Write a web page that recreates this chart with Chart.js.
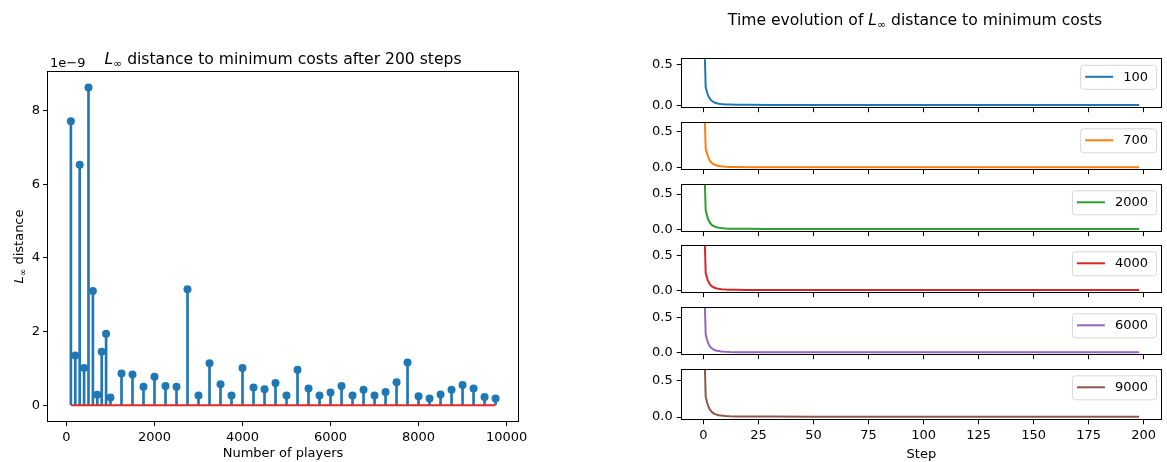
<!DOCTYPE html>
<html>
<head>
<meta charset="utf-8">
<script src="https://cdn.jsdelivr.net/npm/chart.js@4.4.1/dist/chart.umd.min.js"></script>
<style>
  body { margin: 0; background: #fff; width: 1167px; height: 462px; overflow: hidden; }
  canvas { position: absolute; }
</style>
</head>
<body>
<canvas id="stem-chart" width="560" height="462" style="left:0;top:0"></canvas>
<script>
// number of players per run and the L-inf distance reached after 200 steps
const players = [100, 200, 300, 400, 500, 600, 700, 800, 900, 1000,
    1250, 1500, 1750, 2000, 2250, 2500, 2750, 3000, 3250, 3500, 3750, 4000,
    4250, 4500, 4750, 5000, 5250, 5500, 5750, 6000, 6250, 6500, 6750, 7000,
    7250, 7500, 7750, 8000, 8250, 8500, 8750, 9000, 9250, 9500, 9750];
const distances = [7.71e-9, 1.35e-9, 6.53e-9, 1.01e-9, 8.63e-9, 3.10e-9, 0.28e-9, 1.45e-9, 1.94e-9, 0.21e-9,
    0.86e-9, 0.83e-9, 0.50e-9, 0.77e-9, 0.52e-9, 0.50e-9, 3.15e-9, 0.26e-9, 1.14e-9, 0.57e-9, 0.26e-9, 1.01e-9,
    0.48e-9, 0.43e-9, 0.60e-9, 0.26e-9, 0.96e-9, 0.45e-9, 0.26e-9, 0.34e-9, 0.52e-9, 0.26e-9, 0.42e-9, 0.26e-9,
    0.36e-9, 0.62e-9, 1.16e-9, 0.24e-9, 0.18e-9, 0.29e-9, 0.42e-9, 0.55e-9, 0.45e-9, 0.22e-9, 0.18e-9];
const playerTicks = [0, 2000, 4000, 6000, 8000, 10000];
const distanceTicks = [0, 2e-9, 4e-9, 6e-9, 8e-9];

// time evolution of the distance for a few run sizes
const steps = [0, 1, 2, 3, 4, 5, 6, 7, 8, 10, 12, 15, 20, 30, 50, 100, 150, 198];
const run100  = [1.20, 0.22, 0.125, 0.078, 0.052, 0.037, 0.028, 0.022, 0.018, 0.014, 0.012, 0.010, 0.009, 0.008, 0.008, 0.007, 0.007, 0.007];
const run700  = [1.30, 0.26, 0.155, 0.092, 0.060, 0.043, 0.032, 0.025, 0.020, 0.015, 0.012, 0.010, 0.008, 0.007, 0.006, 0.006, 0.006, 0.006];
const run2000 = [1.30, 0.27, 0.150, 0.090, 0.058, 0.041, 0.031, 0.024, 0.019, 0.014, 0.011, 0.009, 0.008, 0.007, 0.006, 0.006, 0.006, 0.006];
const run4000 = [1.35, 0.25, 0.140, 0.085, 0.055, 0.039, 0.029, 0.023, 0.018, 0.013, 0.011, 0.009, 0.008, 0.007, 0.006, 0.006, 0.006, 0.006];
const run6000 = [1.35, 0.26, 0.145, 0.088, 0.057, 0.040, 0.030, 0.024, 0.019, 0.014, 0.011, 0.009, 0.008, 0.007, 0.006, 0.006, 0.006, 0.006];
const run9000 = [1.40, 0.28, 0.160, 0.098, 0.064, 0.045, 0.034, 0.027, 0.021, 0.015, 0.012, 0.010, 0.008, 0.007, 0.006, 0.006, 0.006, 0.006];
const runNames = ['100', '700', '2000', '4000', '6000', '9000'];
const stepTicks = [0, 25, 50, 75, 100, 125, 150, 175, 200];
const evolutionTicks = [0, 0.5];

const runs = [run100, run700, run2000, run4000, run6000, run9000];
const runColors = ['#1f77b4', '#ff7f0e', '#2ca02c', '#d62728', '#9467bd', '#8c564b'];
const runLimits = [[-0.02, 0.56], [-0.02, 0.62], [-0.025, 0.63], [-0.025, 0.64], [-0.02, 0.64], [-0.03, 0.65]];

const FONT = '"DejaVu Sans", sans-serif';
const TEXT = 13;
const TITLE = 15.6;
Chart.defaults.font.family = FONT;
Chart.defaults.font.size = TEXT;
Chart.defaults.color = '#000';

// text with an italic L and a subscript infinity
function drawMath(ctx, parts, x, y, size, align) {
    const fontOf = p => (p.italic ? 'italic ' : '') + (p.sub ? size * 0.7 : size) + 'px ' + FONT;
    let total = 0;
    const widths = parts.map(p => {
        ctx.font = fontOf(p);
        const w = ctx.measureText(p.text).width;
        total += w;
        return w;
    });
    let cx = align === 'center' ? x - total / 2 : x;
    ctx.textAlign = 'left';
    ctx.textBaseline = 'alphabetic';
    parts.forEach((p, i) => {
        ctx.font = fontOf(p);
        ctx.fillText(p.text, cx, y + (p.sub ? size * 0.2 : 0));
        cx += widths[i];
    });
}

function linf(before, rest) {
    const parts = before ? [{text: before}] : [];
    return parts.concat([{text: 'L', italic: true}, {text: '∞', sub: true}, {text: rest}]);
}

const frame = {
    id: 'frame',
    afterDatasetsDraw(chart) {
        const {ctx, chartArea: a} = chart;
        ctx.save();
        ctx.strokeStyle = '#000';
        ctx.lineWidth = 1;
        const l = Math.round(a.left) - 0.5, t = Math.round(a.top) - 0.5;
        ctx.strokeRect(l, t, Math.round(a.right) - Math.round(a.left) + 1, Math.round(a.bottom) - Math.round(a.top) + 1);
        ctx.restore();
    }
};

function tickMarks() {
    return {
        display: true,
        drawOnChartArea: false,
        drawTicks: true,
        tickLength: 5,
        color: '#000',
        lineWidth: 1,
        offset: false
    };
}

// ---- stem plot of the final distance ----
const stemDecor = {
    id: 'stemDecor',
    afterDraw(chart) {
        const {ctx, chartArea: a} = chart;
        ctx.save();
        ctx.fillStyle = '#000';
        drawMath(ctx, linf('', ' distance to minimum costs after 200 steps'), (a.left + a.right) / 2, 64, TITLE, 'center');
        ctx.font = TEXT + 'px ' + FONT;
        ctx.textAlign = 'left';
        ctx.fillText('1e\u22129', a.left + 2, 67);
        ctx.translate(23, (a.top + a.bottom) / 2);
        ctx.rotate(-Math.PI / 2);
        drawMath(ctx, linf('', ' distance'), 0, 0, TEXT, 'center');
        ctx.restore();
    }
};

const points = players.map((p, i) => ({x: p, y: distances[i]}));

new Chart(document.getElementById('stem-chart'), {
    type: 'bar',
    data: {
        datasets: [{
            type: 'line',
            data: [{x: players[0], y: 0}, {x: players[players.length - 1], y: 0}],
            borderColor: '#e5292a',
            borderWidth: 2,
            pointRadius: 0,
            order: 0
        }, {
            type: 'line',
            data: points,
            showLine: false,
            pointRadius: 4,
            pointBackgroundColor: '#1f77b4',
            pointBorderWidth: 0,
            order: 1
        }, {
            type: 'bar',
            data: points,
            backgroundColor: '#1f77b4',
            borderWidth: 0,
            barThickness: 2,
            order: 2
        }]
    },
    options: {
        responsive: false,
        animation: false,
        layout: {padding: {left: 0, top: 72, right: 42, bottom: 0}},
        plugins: {legend: {display: false}, tooltip: {enabled: false}},
        scales: {
            x: {
                type: 'linear',
                min: -420,
                max: 10260,
                offset: false,
                grid: tickMarks(),
                border: {display: false},
                ticks: {padding: 4, maxRotation: 0, callback: v => String(v)},
                afterBuildTicks: s => { s.ticks = playerTicks.map(v => ({value: v})); },
                afterFit: s => { s.height = 41; },
                title: {display: true, text: 'Number of players', padding: {top: 0, bottom: 1}}
            },
            y: {
                min: -0.431e-9,
                max: 9.05e-9,
                grid: tickMarks(),
                border: {display: false},
                ticks: {padding: 3, callback: v => String(Math.round(v * 1e9))},
                afterBuildTicks: s => { s.ticks = distanceTicks.map(v => ({value: v})); },
                afterFit: s => { s.width = 48; }
            }
        }
    },
    plugins: [frame, stemDecor]
});

// ---- stacked panels with the time evolution ----
const PANEL_H = 51.5;
const panelTops = [59.3, 121, 182.7, 244.4, 306.1, 367.8];

const panelLegend = {
    id: 'panelLegend',
    afterDraw(chart) {
        const {ctx, chartArea: a} = chart;
        const ds = chart.data.datasets[0];
        ctx.save();
        ctx.font = TEXT + 'px ' + FONT;
        const tw = ctx.measureText(ds.label).width;
        const w = 6 + 28 + 10 + tw + 7, h = 24;
        const x = a.right - 5 - w, y = a.top + 5.5;
        ctx.beginPath();
        ctx.roundRect(x + 0.5, y + 0.5, w, h, 3);
        ctx.fillStyle = 'rgba(255,255,255,0.8)';
        ctx.fill();
        ctx.strokeStyle = '#d6d6d6';
        ctx.lineWidth = 1;
        ctx.stroke();
        ctx.beginPath();
        ctx.moveTo(x + 5, y + h / 2);
        ctx.lineTo(x + 33, y + h / 2);
        ctx.strokeStyle = ds.borderColor;
        ctx.lineWidth = 2;
        ctx.stroke();
        ctx.fillStyle = '#000';
        ctx.textBaseline = 'middle';
        ctx.fillText(ds.label, x + 43, y + h / 2 + 0.5);
        ctx.restore();
    }
};

const suptitle = {
    id: 'suptitle',
    afterDraw(chart) {
        const ctx = chart.ctx;
        ctx.save();
        ctx.fillStyle = '#000';
        drawMath(ctx, linf('Time evolution of ', ' distance to minimum costs'), 275, 25, TITLE, 'center');
        ctx.restore();
    }
};

runs.forEach((vals, k) => {
    const last = k === runs.length - 1;
    const top = k === 0 ? 0 : Math.round(panelTops[k] - 10);
    const padTop = panelTops[k] - top;
    const height = last ? 462 - top : Math.ceil(padTop + PANEL_H + 8);
    const canvas = document.createElement('canvas');
    canvas.width = 527;
    canvas.height = height;
    canvas.style.left = '640px';
    canvas.style.top = top + 'px';
    document.body.appendChild(canvas);

    const plugins = [frame, panelLegend];
    if (k === 0) plugins.push(suptitle);

    new Chart(canvas, {
        type: 'line',
        data: {
            datasets: [{
                label: runNames[k],
                data: steps.map((s, i) => ({x: s, y: vals[i]})),
                borderColor: runColors[k],
                borderWidth: 2,
                pointRadius: 0,
                tension: 0
            }]
        },
        options: {
            responsive: false,
            animation: false,
            layout: {padding: {left: 0, top: padTop, right: 6, bottom: 0}},
            plugins: {legend: {display: false}, tooltip: {enabled: false}},
            scales: {
                x: {
                    type: 'linear',
                    min: -9.9,
                    max: 207.9,
                    grid: tickMarks(),
                    border: {display: false},
                    ticks: {display: last, padding: 4, maxRotation: 0, callback: v => String(v)},
                    afterBuildTicks: s => { s.ticks = stepTicks.map(v => ({value: v})); },
                    afterFit: s => { s.height = height - padTop - PANEL_H; },
                    title: {display: last, text: 'Step', padding: {top: 0, bottom: 0}}
                },
                y: {
                    min: runLimits[k][0],
                    max: runLimits[k][1],
                    grid: tickMarks(),
                    border: {display: false},
                    ticks: {padding: 4, callback: v => v.toFixed(1)},
                    afterBuildTicks: s => { s.ticks = evolutionTicks.map(v => ({value: v})); },
                    afterFit: s => { s.width = 41.7; }
                }
            }
        },
        plugins: plugins
    });
});
</script>
</body>
</html>
